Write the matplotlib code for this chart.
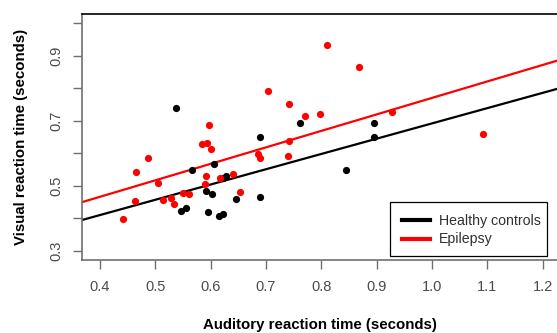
import matplotlib
matplotlib.use("Agg")
import matplotlib.pyplot as plt
import numpy as np
from matplotlib.lines import Line2D
from matplotlib.patches import Rectangle

plt.rcParams['font.family'] = ['Liberation Sans', 'DejaVu Sans']

# Healthy controls (auditory, visual)
hc_x = [0.537, 0.761, 0.690, 0.606, 0.622, 0.628, 0.591, 0.602, 0.645, 0.690,
        0.596, 0.615, 0.623, 0.546, 0.555, 0.567, 0.895, 0.895, 0.844]
hc_y = [0.741, 0.694, 0.649, 0.567, 0.524, 0.530, 0.485, 0.476, 0.461, 0.467,
        0.420, 0.408, 0.415, 0.423, 0.433, 0.549, 0.693, 0.650, 0.549]

# Epilepsy
ep_x = [0.704, 0.597, 0.584, 0.593, 0.601, 0.486, 0.686, 0.690, 0.810, 0.868,
        0.741, 0.770, 0.798, 0.927, 0.741, 0.739, 1.093, 0.466, 0.505, 0.463,
        0.514, 0.528, 0.534, 0.442, 0.550, 0.561, 0.591, 0.590, 0.617, 0.641,
        0.653]
ep_y = [0.793, 0.688, 0.629, 0.631, 0.614, 0.585, 0.598, 0.585, 0.934, 0.867,
        0.752, 0.714, 0.722, 0.726, 0.638, 0.593, 0.659, 0.542, 0.510, 0.455,
        0.457, 0.462, 0.444, 0.398, 0.477, 0.475, 0.529, 0.506, 0.524, 0.537,
        0.481]

# Regression lines (intercept, slope)
hc_fit = [0.2223, 0.470]
ep_fit = [0.2637, 0.507]

series_labels = ["Healthy controls", "Epilepsy"]
x_ticks = [0.4, 0.5, 0.6, 0.7, 0.8, 0.9, 1.0, 1.1, 1.2]
x_ticklabels = ["0.4", "0.5", "0.6", "0.7", "0.8", "0.9", "1.0", "1.1", "1.2"]
y_ticks = [0.3, 0.4, 0.5, 0.6, 0.7, 0.8, 0.9, 1.0]
y_ticklabels = ["0.3", "", "0.5", "", "0.7", "", "0.9", ""]

W, H = 557, 333
fig = plt.figure(figsize=(W/100, H/100), dpi=100)
ax_w = 557 - 82
ax_h = 246
ax = fig.add_axes([82/W, 73/H, ax_w/W, ax_h/H])

xlim = (0.3675, 1.226)
ylim = (0.272, 1.029)
ax.set_xlim(*xlim)
ax.set_ylim(*ylim)

xs = np.array(xlim)
ax.plot(xs, hc_fit[0] + hc_fit[1]*xs, color='black', lw=1.6, zorder=2)
ax.plot(xs, ep_fit[0] + ep_fit[1]*xs, color='#ff0000', lw=1.6, zorder=2)

ax.plot(hc_x, hc_y, 'o', color='black', ms=5.2, mec='none', zorder=3)
ax.plot(ep_x, ep_y, 'o', color='#ff0000', ms=5.2, mec='none', zorder=3)

ax.set_xticks(x_ticks)
ax.set_xticklabels(x_ticklabels)
ax.set_yticks(y_ticks)
ax.set_yticklabels(y_ticklabels, rotation=90, va='center')
ax.tick_params(axis='both', direction='out', length=6.5, width=1, color='#707070',
               labelcolor='#4a4a4a', labelsize=10.5)
ax.tick_params(axis='x', pad=8)
ax.tick_params(axis='y', pad=7)

for s in ['left', 'bottom']:
    ax.spines[s].set_color('#707070')
    ax.spines[s].set_linewidth(1.2)
ax.spines['top'].set_color('black')
ax.spines['top'].set_linewidth(1.2)
ax.spines['right'].set_visible(False)

ax.set_xlabel("Auditory reaction time (seconds)", fontsize=10.8, fontweight='bold', labelpad=17.5)
ax.set_ylabel("Visual reaction time (seconds)", fontsize=10.8, fontweight='bold', labelpad=15)

# legend box (R style: text runs close to right edge)
box = Rectangle((390/W, (H - 256)/H), (547 - 390)/W, (256 - 202)/H,
                transform=fig.transFigure, facecolor='white', edgecolor='black',
                linewidth=0.9, zorder=5)
fig.add_artist(box)

handles = [Line2D([0], [0], color='black', lw=3), Line2D([0], [0], color='#ff0000', lw=3)]
leg = fig.legend(handles, series_labels, loc='center left',
                 bbox_to_anchor=(402/W, (H - 230)/H), bbox_transform=fig.transFigure,
                 frameon=False, fontsize=10.2,
                 handlelength=2.0, borderpad=0.0, labelspacing=0.35, handletextpad=0.6,
                 borderaxespad=0.0)
leg.set_zorder(6)
for t in leg.get_texts():
    t.set_color('#303030')

fig.savefig("out.png", dpi=100)
